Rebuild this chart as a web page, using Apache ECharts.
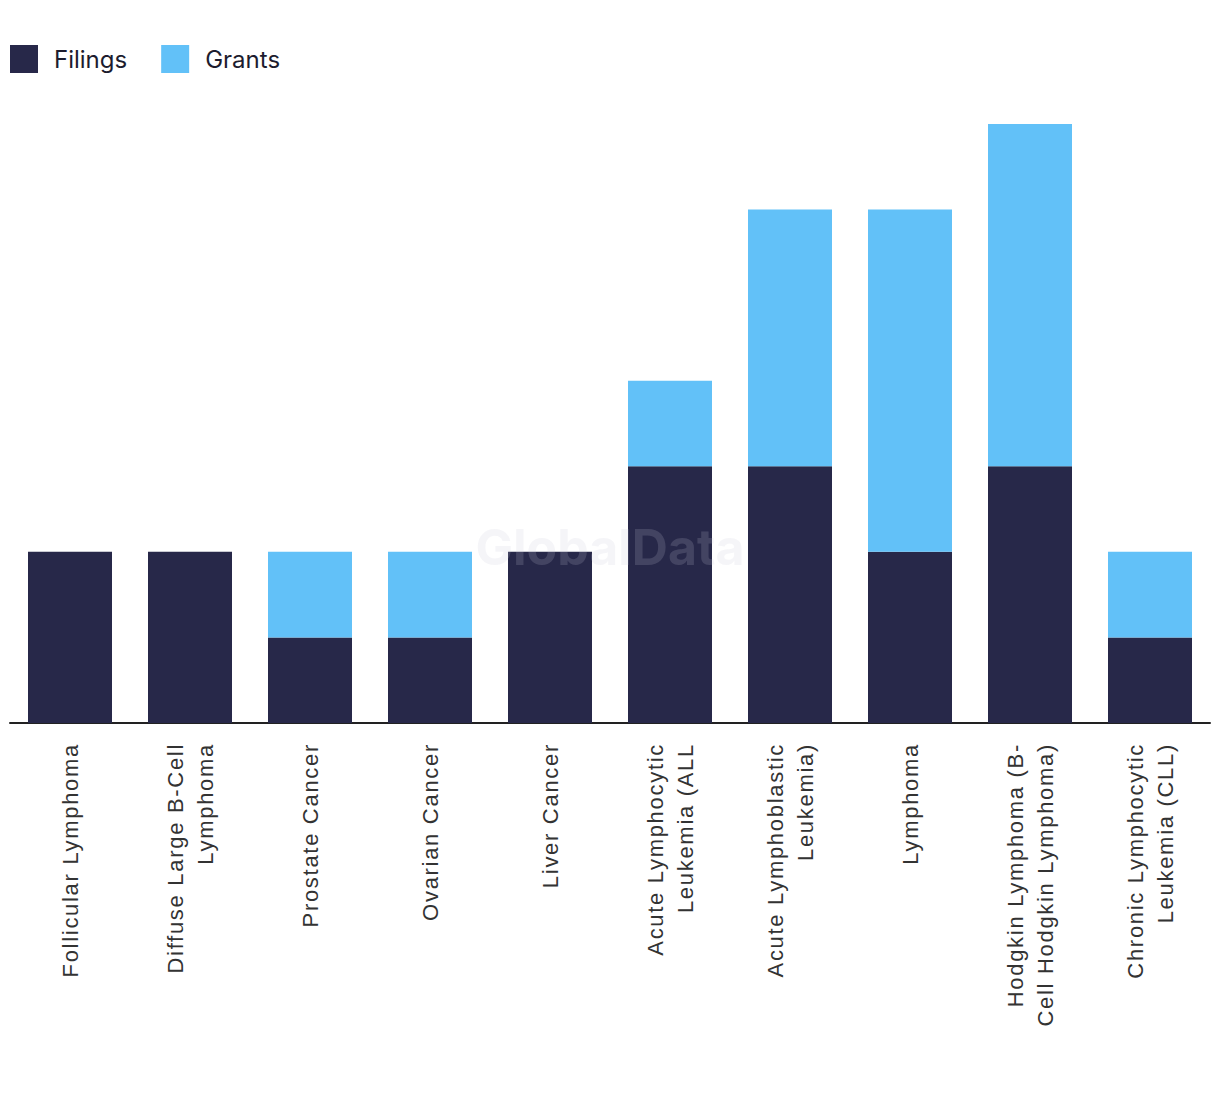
<!DOCTYPE html>
<html><head><meta charset="utf-8">
<script src="https://cdn.jsdelivr.net/npm/echarts@6/dist/echarts.min.js"></script>
<style>html,body{margin:0;padding:0;background:#fff}#c{width:1220px;height:1094px}
#c svg text[style*="Liberation"]{letter-spacing:1.7px}</style>
</head><body><div id="c"></div>
<script>
var categories = ["Follicular Lymphoma","Diffuse Large B-Cell\nLymphoma","Prostate Cancer","Ovarian Cancer","Liver Cancer","Acute Lymphocytic\nLeukemia (ALL","Acute Lymphoblastic\nLeukemia)","Lymphoma","Hodgkin Lymphoma (B-\nCell Hodgkin Lymphoma)","Chronic Lymphocytic\nLeukemia (CLL)"];
var filings = [2,2,1,1,2,3,3,2,3,1];
var grants = [0,0,1,1,0,1,3,4,4,1];

var chart = echarts.init(document.getElementById('c'), null, {renderer:'svg'});
chart.setOption({
  animation:false,
  legend:{left:10, top:45, padding:0, itemWidth:28, itemHeight:28, itemGap:34, icon:'rect',
    textStyle:{fontFamily:'Inter', fontSize:24, color:'#1c1c2e', padding:[0,0,0,11]},
    data:['Filings','Grants']},
  grid:{left:10, right:10, top:124, bottom:371},
  xAxis:{type:'category', data:categories,
    axisLine:{lineStyle:{color:'#222', width:2}},
    axisTick:{show:false},
    axisLabel:{rotate:90, interval:0, margin:20, fontFamily:'Liberation Sans', fontSize:22, lineHeight:30, color:'#333'}},
  yAxis:{type:'value', min:0, max:7, show:false, splitLine:{show:false}},
  graphic:[{type:'text', left:'center', top:522, z:100, silent:true,
    style:{text:'GlobalData', font:'bold 50px Inter', fill:'rgba(200,200,215,0.18)'}}],
  series:[
    {name:'Filings', type:'bar', stack:'a', data:filings, barWidth:'70%', itemStyle:{color:'#272849'}},
    {name:'Grants', type:'bar', stack:'a', data:grants, barWidth:'70%', itemStyle:{color:'#62C1F8'}}
  ]
});
</script></body></html>
